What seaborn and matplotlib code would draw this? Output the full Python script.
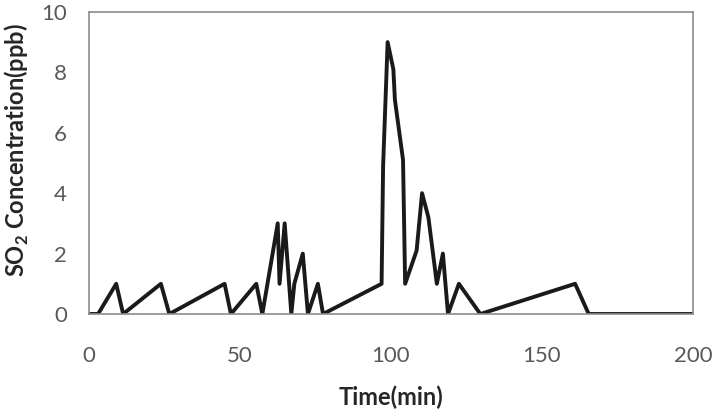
import seaborn as sns
import matplotlib.pyplot as plt
import pandas as pd

# time (min) and SO2 concentration (ppb)
time_min = [0, 3, 9, 11.3, 23.8, 26.6, 44.9, 47, 55.4, 57.4,
            62.5, 63.1, 64.8, 67, 68, 70.8, 72.5, 75.8, 77.5,
            96.9, 97.4, 98.9, 100.8, 101.3, 104, 104.7, 108.5, 110.3,
            112.4, 115.2, 117.2, 118.9, 122.5, 129.6, 161, 165.5, 200]
so2_ppb = [0, 0, 1, 0, 1, 0, 1, 0, 1, 0,
           3, 1, 3, 0, 1, 2, 0, 1, 0,
           1, 4.9, 9, 8.1, 7.1, 5.1, 1, 2.1, 4,
           3.2, 1, 2, 0, 1, 0, 1, 0, 0]

x_ticks = [0, 50, 100, 150, 200]
y_ticks = [0, 2, 4, 6, 8, 10]

df = pd.DataFrame({"time": time_min, "so2": so2_ppb})

sns.set_style("white")
plt.rcParams['font.family'] = ['Lato', 'DejaVu Sans']
plt.rcParams['mathtext.fontset'] = 'custom'
plt.rcParams['mathtext.rm'] = 'Lato'
plt.rcParams['mathtext.bf'] = 'Lato:bold'

fig = plt.figure(figsize=(7.18, 4.11), dpi=100)
ax = fig.add_axes([0.124, 0.236, 0.841, 0.735])

sns.lineplot(data=df, x="time", y="so2", ax=ax, color='#1a1a1a', linewidth=2.8,
             estimator=None, sort=False)

ax.set_xlim(0, 200)
ax.set_ylim(0, 10)
ax.set_xticks(x_ticks)
ax.set_yticks(y_ticks)
ax.tick_params(axis='both', length=0, labelsize=16, colors='#595959')
ax.tick_params(axis='x', pad=23)
ax.tick_params(axis='y', pad=16)

for s in ax.spines.values():
    s.set_color('#8c8c8c')
    s.set_linewidth(1.2)

ax.set_xlabel("Time(min)", fontsize=17, fontweight='bold', color='#262626')
ax.set_ylabel(r"SO$_\mathbf{2}$ Concentration(ppb)", fontsize=17, fontweight='bold',
              color='#262626')
ax.xaxis.set_label_coords(0.5, -0.238)
ax.yaxis.set_label_coords(-0.096, 0.543)

fig.savefig("out.png", dpi=100)
